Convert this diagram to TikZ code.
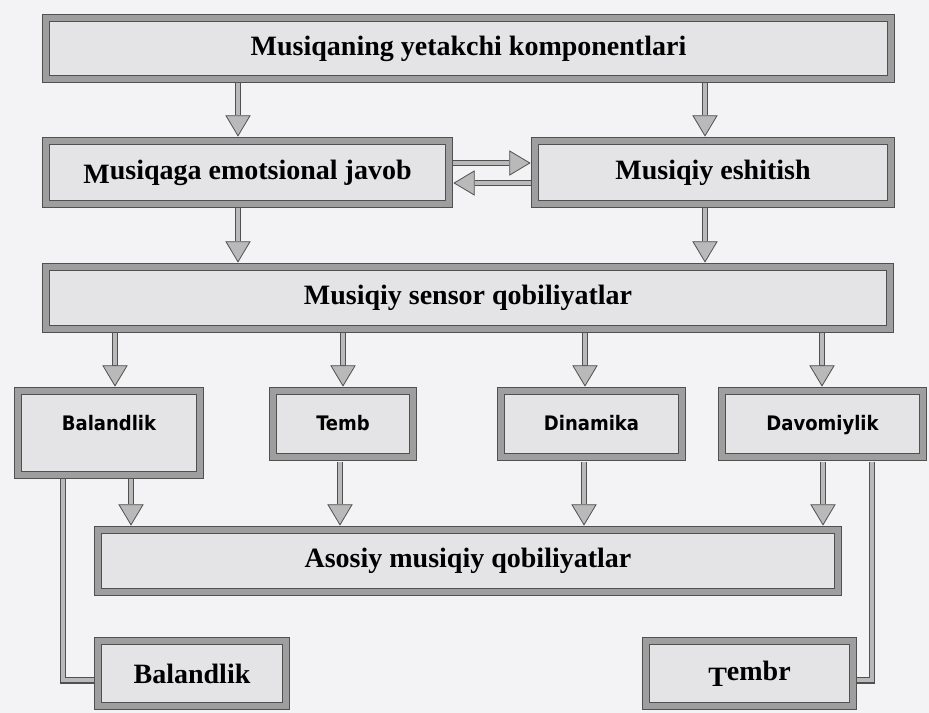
\documentclass[tikz,border=0pt]{standalone}
\usepackage{fontspec}
\setmainfont{Liberation Serif}
\newfontfamily\labelsans{DejaVu Sans Condensed}
\usetikzlibrary{arrows.meta}

\definecolor{paper}{RGB}{243,243,245}
\definecolor{boxfill}{RGB}{228,228,230}
\definecolor{band}{RGB}{158,158,158}
\definecolor{edge}{RGB}{80,80,80}
\definecolor{shaft}{RGB}{185,185,185}

\tikzset{
    mainbox/.style={draw=edge, line width=0.6pt, double=band, double distance=4.5pt,
        fill=boxfill, inner sep=0pt, font=\bfseries\fontsize{21}{25}\selectfont},
    sensbox/.style={mainbox, font=\labelsans\bfseries\fontsize{15}{18}\selectfont,
        text height=29.6pt, text depth=20pt, anchor=base},
    flow/.style={draw=edge, line width=5pt, shorten <=3pt, shorten >=3pt,
        -{Triangle[length=16pt, width=19pt, fill=shaft, line width=0.6pt]},
        postaction={draw=shaft, line width=3.4pt, shorten >=19pt, -}},
    link/.style={draw=edge, line width=5pt, shorten <=3pt, shorten >=3pt,
        postaction={draw=shaft, line width=3.4pt}}
}

\begin{document}
\begin{tikzpicture}[x=0.75pt, y=-0.75pt]
    \useasboundingbox[fill=paper] (0,0) rectangle (929,713);

    % Top levels
    \node[mainbox, minimum width=633.75pt, minimum height=45.75pt] (komp) at (468.5,48.5) {Musiqaning yetakchi komponentlari};
    \node[mainbox, minimum width=302.25pt, minimum height=47.25pt] (emo) at (247.5,172.5) {\raisebox{-3.5pt}{M}usiqaga emotsional javob};
    \node[mainbox, minimum width=267pt, minimum height=47.25pt] (esh) at (713,172.5) {Musiqiy eshitish};
    \node[mainbox, minimum width=633pt, minimum height=46.5pt] (sens) at (468,298) {Musiqiy sensor qobiliyatlar};

    % Sensor abilities
    \node[sensbox, minimum width=136.5pt, text depth=33.4pt] (bal) at (109,430.5) {Balandlik};
    \node[sensbox, minimum width=105pt] (temb) at (343,430.5) {Temb};
    \node[sensbox, minimum width=135.75pt] (din) at (591.5,430.5) {Dinamika};
    \node[sensbox, minimum width=150.75pt] (dav) at (822.5,430.5) {Davomiylik};

    % Basic abilities
    \node[mainbox, minimum width=555pt, minimum height=46.5pt] (asos) at (468,561) {Asosiy musiqiy qobiliyatlar};
    \node[mainbox, minimum width=141pt, minimum height=48.75pt] (bal2) at (192,673.5) {Balandlik};
    \node[mainbox, minimum width=155.25pt, minimum height=48.75pt] (tembr) at (749.5,673.5) {\raisebox{-4.5pt}{T}embr};

    % Arrows
    \draw[flow] (238,0 |- komp.south) -- (238,0 |- emo.north);
    \draw[flow] (705,0 |- komp.south) -- (705,0 |- esh.north);
    \draw[flow] (emo.east |- 0,163) -- (esh.west |- 0,163);
    \draw[flow] (esh.west |- 0,183) -- (emo.east |- 0,183);
    \draw[flow] (238,0 |- emo.south) -- (238,0 |- sens.north);
    \draw[flow] (705,0 |- esh.south) -- (705,0 |- sens.north);
    \foreach \x/\n in {115/bal, 343/temb, 585/din, 822/dav}
        \draw[flow] (\x,0 |- sens.south) -- (\x,0 |- \n.north);
    \foreach \x/\n in {131/bal, 340/temb, 584/din, 823/dav}
        \draw[flow] (\x,0 |- \n.south) -- (\x,0 |- asos.north);

    % Side links
    \draw[link] (63,0 |- bal.south) |- ([yshift=-5pt]bal2.west);
    \draw[link] (872,0 |- dav.south) |- ([yshift=-5pt]tembr.east);
\end{tikzpicture}
\end{document}
